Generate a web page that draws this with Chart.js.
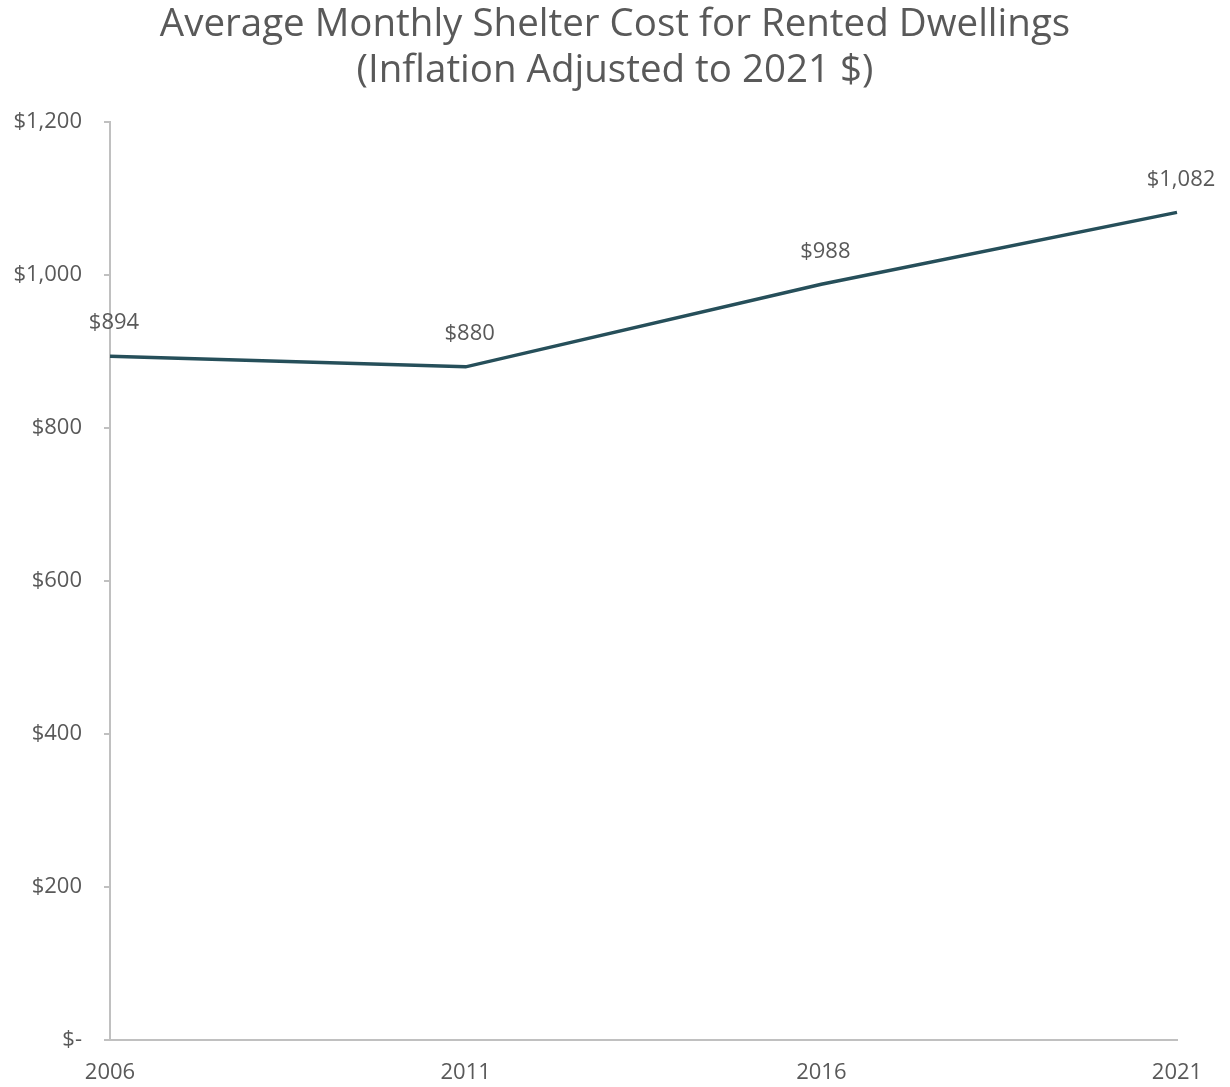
<!DOCTYPE html>
<html>
<head>
<meta charset="utf-8">
<script src="https://cdn.jsdelivr.net/npm/chart.js@4"></script>
<style>
    html, body { margin: 0; padding: 0; background: #fff; }
    #wrap { width: 1230px; height: 1087px; }
</style>
</head>
<body>
<div id="wrap"><canvas id="shelter-chart"></canvas></div>
<script>
const years = ['2006', '2011', '2016', '2021'];
const avgShelterCost = [894, 880, 988, 1082];
const yTicks = [0, 200, 400, 600, 800, 1000, 1200];

const fontFamily = "'Open Sans', 'DejaVu Sans', sans-serif";
const textColor = '#595959';
const axisColor = '#c0c0c0';

function money(v) {
    if (v === 0) return '$-';
    return '$' + v.toLocaleString('en-US');
}

// Draw the value above each point
const pointLabels = {
    id: 'pointLabels',
    afterDatasetsDraw(chart) {
        const ctx = chart.ctx;
        const meta = chart.getDatasetMeta(0);
        ctx.save();
        ctx.font = '22px ' + fontFamily;
        ctx.fillStyle = textColor;
        ctx.textAlign = 'center';
        ctx.textBaseline = 'middle';
        meta.data.forEach((pt, i) => {
            ctx.fillText(money(avgShelterCost[i]), pt.x + 4, pt.y - 33);
        });
        ctx.restore();
    }
};

const ctx = document.getElementById('shelter-chart').getContext('2d');
const shelterChart = new Chart(ctx, {
    type: 'line',
    data: {
        labels: years,
        datasets: [{
            label: 'Average Monthly Shelter Cost',
            data: avgShelterCost,
            borderColor: '#264f5a',
            borderWidth: 3.5,
            pointRadius: 0,
            tension: 0,
            fill: false
        }]
    },
    options: {
        responsive: true,
        maintainAspectRatio: false,
        animation: false,
        layout: { padding: 0 },
        plugins: {
            legend: { display: false },
            tooltip: { enabled: false },
            title: {
                display: true,
                text: ['Average Monthly Shelter Cost for Rented Dwellings', '(Inflation Adjusted to 2021 $)'],
                color: textColor,
                font: { family: fontFamily, size: 38.5, weight: 'normal', lineHeight: 1.17 },
                padding: { top: 3, bottom: 29 }
            }
        },
        scales: {
            x: {
                offset: false,
                grid: { display: false, drawTicks: false },
                border: { color: axisColor, width: 2 },
                ticks: { color: textColor, font: { family: fontFamily, size: 22 }, padding: 20, maxRotation: 0 },
                afterFit(scale) { scale.height = 47; }
            },
            y: {
                min: 0,
                max: 1200,
                afterBuildTicks(scale) { scale.ticks = yTicks.map(v => ({ value: v })); },
                grid: { display: true, drawOnChartArea: false, drawTicks: true, tickLength: 6, color: axisColor, lineWidth: 2 },
                border: { color: axisColor, width: 2 },
                ticks: { color: textColor, font: { family: fontFamily, size: 22 }, padding: 22, callback: v => money(v) },
                afterFit(scale) { scale.width = 110; }
            },
            // empty right-hand gutter so the title stays centred on the page
            gutter: {
                position: 'right',
                grid: { display: false },
                border: { display: false },
                ticks: { display: false },
                afterFit(scale) { scale.width = 53; }
            }
        }
    },
    plugins: [pointLabels]
});
</script>
</body>
</html>
